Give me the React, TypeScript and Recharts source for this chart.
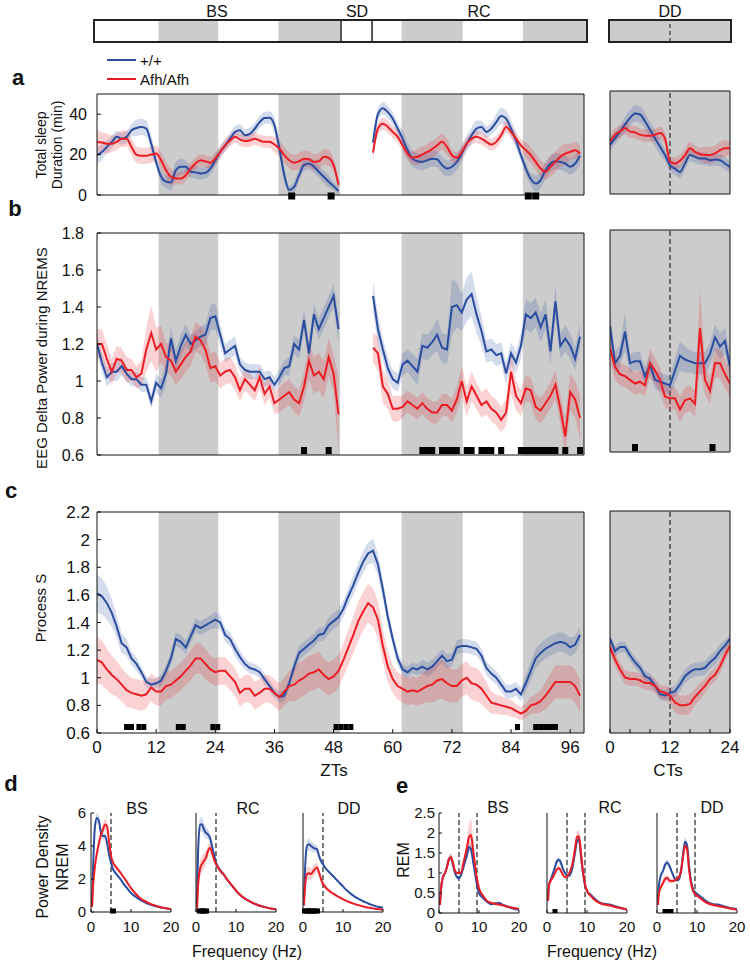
import React from "react";
import {
  ComposedChart,
  Line,
  Area,
  XAxis,
  YAxis,
  ReferenceArea,
  ReferenceLine,
  ReferenceDot,
} from "recharts";

const BLUE = "#2a4d9f";
const RED = "#ec1c24";
const GRAY = "#cccccc";
const FONT = "'Liberation Sans', Arial, Helvetica, sans-serif";

// ---- time grids (hours) ----
const ZT_BS = [0, 1, 2, 3, 4, 5, 6, 7, 8, 9, 10, 11, 12, 13, 14, 15, 16, 17, 18, 19, 20, 21, 22, 23, 24, 25, 26, 27, 28, 29, 30, 31, 32, 33, 34, 35, 36, 37, 38, 39, 40, 41, 42, 43, 44, 45, 46, 47, 48, 49];
const ZT_SD = [50, 51, 52, 53, 54, 55];
const ZT_RC = [56, 57, 58, 59, 60, 61, 62, 63, 64, 65, 66, 67, 68, 69, 70, 71, 72, 73, 74, 75, 76, 77, 78, 79, 80, 81, 82, 83, 84, 85, 86, 87, 88, 89, 90, 91, 92, 93, 94, 95, 96, 97, 98];
const CT = [0, 1, 2, 3, 4, 5, 6, 7, 8, 9, 10, 11, 12, 13, 14, 15, 16, 17, 18, 19, 20, 21, 22, 23, 24];
const ZT_TICKS = [0, 12, 24, 36, 48, 60, 72, 84, 96];
const CT_TICKS = [0, 4, 8, 12, 16, 20, 24];

// dark phases (ZT) and sleep deprivation window
const DARK_ZT = [[12.5, 24.6], [36.8, 49.3], [61.8, 74.2], [86.4, 100]];
const SD_EDGES = [49.5, 55.8];

// ---- a: total sleep (min) ----
const A_WT_BS = [
  19.7, 21.3, 23.8, 26.3, 28.8, 27.9, 28.8, 32, 33.2, 33.7,
  32.9, 25.4, 16.4, 9, 6.6, 6.2, 12.3, 14, 14, 11.5,
  11.2, 10.7, 11, 13.1, 17.2, 21.3, 24.6, 27.9, 31.2, 32,
  29.6, 30.3, 32.8, 36.1, 38.1, 38.3, 34.5, 23, 9.8, 2.5,
  4, 9.8, 14.8, 15.6, 14, 11.5, 9, 6.6, 4.4, 2,
];
const A_WT_RC = [
  26, 40, 43, 41, 37.8, 32.9, 27.9, 22.2, 18, 16.7,
  16.4, 17.2, 18, 17.7, 14.8, 13.1, 14, 16.4, 20.5, 25.4,
  29.6, 32.9, 33.7, 31.2, 32.9, 36.1, 39.1, 37.8, 32.9, 27,
  19.7, 13.1, 7.9, 5.7, 7.4, 12.3, 15.6, 16.7, 16.4, 15.6,
  14, 15.6, 19.4,
];
const A_KO_BS = [
  26.3, 26, 25.4, 25.4, 26.3, 27.9, 27.9, 23.8, 20, 19.4,
  19.4, 20, 20.5, 17.2, 12.3, 9, 8.2, 8.2, 9.8, 13.1,
  15.6, 17.2, 16.7, 16, 18, 21.3, 24.6, 27, 28.8, 27.5,
  26.7, 27, 27.9, 27, 26.3, 26.3, 25, 23, 19.7, 17.2,
  16, 16.7, 18, 17.7, 16.4, 16.7, 18.9, 18.4, 14.8, 5,
];
const A_KO_RC = [
  21, 32.9, 35.3, 33.7, 31.2, 28.8, 24.6, 20.5, 18.4, 18.9,
  20, 21.3, 22.7, 24.6, 26.3, 23.8, 19.7, 18.4, 21.3, 25.4,
  27.9, 28.8, 27.9, 26.3, 25, 26.3, 29.6, 33.7, 31.2, 27.9,
  24.6, 22.2, 19.7, 16.4, 13.1, 11.5, 14, 16.4, 18.9, 20.5,
  21.3, 22.2, 20.5,
];
const A_WT_SEM_BS = [
  4, 4, 3, 3, 3, 3, 3, 3, 4, 4, 4, 4, 3, 3, 3, 4, 4, 4, 3, 3,
  3, 3, 3, 3, 3, 3, 3, 3, 3, 3, 3, 3, 3, 3, 3, 3, 4, 4, 3, 2,
  3, 3, 3, 3, 3, 3, 3, 3, 2, 2,
];
const A_WT_SEM_RC = [
  4, 3, 3, 3, 3, 3, 4, 4, 4, 4, 4, 4, 4, 4, 4, 4, 4, 4, 4, 4,
  4, 4, 3, 3, 3, 4, 4, 4, 4, 4, 3, 3, 3, 4, 4, 4, 4, 4, 4, 4,
  4, 4, 4,
];
const A_KO_SEM_BS = [
  6, 5, 5, 4, 4, 4, 4, 4, 4, 4, 4, 4, 4, 4, 4, 4, 3, 3, 3, 3,
  3, 3, 3, 3, 3, 3, 3, 3, 3, 3, 3, 3, 3, 3, 3, 3, 4, 4, 4, 4,
  4, 4, 4, 4, 4, 4, 4, 4, 3, 3,
];
const A_KO_SEM_RC = [
  4, 3, 3, 3, 3, 3, 3, 3, 3, 4, 4, 4, 4, 4, 4, 4, 3, 3, 3, 3,
  3, 3, 3, 3, 3, 3, 3, 3, 3, 3, 3, 4, 4, 4, 4, 4, 5, 5, 5, 5,
  4, 4, 4,
];
const A_SIG = [39.5, 47.5, 87.5, 89];

// ---- b: EEG delta power during NREMS ----
const B_WT_BS = [
  1.2, 1.1, 1.02, 1.05, 1.05, 1.08, 1.04, 1.01, 1.01, 0.98,
  0.98, 0.89, 0.99, 0.96, 1.04, 1.23, 1.11, 1.19, 1.25, 1.2,
  1.22, 1.24, 1.25, 1.34, 1.35, 1.25, 1.15, 1.17, 1.19, 1.09,
  1.06, 1.05, 1.05, 1.05, 1.01, 1.02, 0.98, 1.02, 1.07, 1.08,
  1.2, 1.17, 1.33, 1.15, 1.36, 1.28, 1.34, 1.4, 1.46, 1.28,
];
const B_WT_RC = [
  1.46, 1.28, 1.17, 1.07, 1.01, 0.99, 1.09, 1.11, 1.08, 1.05,
  1.19, 1.18, 1.21, 1.25, 1.18, 1.17, 1.4, 1.41, 1.37, 1.44,
  1.47, 1.36, 1.27, 1.16, 1.17, 1.14, 1.15, 1.04, 1.15, 1.1,
  1.19, 1.36, 1.34, 1.37, 1.29, 1.36, 1.16, 1.43, 1.19, 1.23,
  1.19, 1.12, 1.24,
];
const B_KO_BS = [
  1.2, 1.2, 1.12, 1.05, 1.12, 1.11, 1.06, 1.06, 1.02, 1.04,
  1.17, 1.26, 1.17, 1.2, 1.13, 1.11, 1.05, 1.09, 1.13, 1.16,
  1.24, 1.22, 1.17, 1.07, 1.08, 1.03, 1.05, 1.06, 1.02, 0.95,
  1.01, 0.98, 0.95, 1.02, 0.93, 0.97, 0.88, 0.9, 0.92, 0.94,
  0.9, 0.88, 0.97, 1.11, 1.03, 1.05, 1.01, 1.13, 1.04, 0.82,
];
const B_KO_RC = [
  1.18, 1.15, 0.97, 0.93, 0.85, 0.85, 0.86, 0.89, 0.87, 0.85,
  0.88, 0.85, 0.83, 0.83, 0.87, 0.87, 0.84, 0.9, 1.0, 0.89,
  0.97, 0.92, 0.87, 0.89, 0.85, 0.83, 0.79, 0.83, 1.05, 0.92,
  0.88, 0.96, 0.95, 0.86, 0.84, 0.88, 0.92, 0.98, 0.85, 0.7,
  0.94, 0.9, 0.8,
];
const B_WT_SEM_BS = [
  0.06, 0.05, 0.05, 0.05, 0.05, 0.05, 0.04, 0.04, 0.04, 0.04,
  0.04, 0.04, 0.05, 0.05, 0.06, 0.06, 0.06, 0.06, 0.06, 0.05,
  0.05, 0.05, 0.06, 0.07, 0.07, 0.06, 0.05, 0.05, 0.05, 0.04,
  0.04, 0.04, 0.04, 0.04, 0.04, 0.04, 0.04, 0.04, 0.04, 0.05,
  0.05, 0.05, 0.06, 0.06, 0.06, 0.06, 0.06, 0.06, 0.06, 0.08,
];
const B_WT_SEM_RC = [
  0.08, 0.08, 0.06, 0.06, 0.05, 0.05, 0.06, 0.06, 0.07, 0.07,
  0.07, 0.07, 0.07, 0.09, 0.08, 0.08, 0.15, 0.12, 0.1, 0.12,
  0.12, 0.1, 0.08, 0.06, 0.06, 0.06, 0.06, 0.06, 0.06, 0.06,
  0.07, 0.08, 0.08, 0.08, 0.08, 0.08, 0.07, 0.09, 0.07, 0.07,
  0.07, 0.06, 0.07,
];
const B_KO_SEM_BS = [
  0.08, 0.08, 0.08, 0.07, 0.07, 0.07, 0.07, 0.06, 0.06, 0.07,
  0.12, 0.15, 0.12, 0.1, 0.08, 0.08, 0.07, 0.08, 0.08, 0.08,
  0.08, 0.08, 0.08, 0.08, 0.08, 0.07, 0.07, 0.07, 0.07, 0.06,
  0.06, 0.06, 0.06, 0.06, 0.06, 0.06, 0.06, 0.07, 0.07, 0.07,
  0.07, 0.07, 0.08, 0.1, 0.1, 0.1, 0.1, 0.1, 0.1, 0.2,
];
const B_KO_SEM_RC = [
  0.08, 0.09, 0.09, 0.08, 0.07, 0.07, 0.06, 0.06, 0.06, 0.06,
  0.06, 0.06, 0.06, 0.06, 0.06, 0.06, 0.06, 0.07, 0.08, 0.08,
  0.08, 0.07, 0.07, 0.07, 0.07, 0.07, 0.07, 0.07, 0.12, 0.08,
  0.07, 0.07, 0.07, 0.07, 0.07, 0.07, 0.07, 0.08, 0.08, 0.1,
  0.1, 0.1, 0.12,
];
const B_SIG = [42, 47, 66, 67, 68, 70, 71, 72, 73, 75, 76, 78, 79, 80, 82, 86, 87, 88, 89, 90, 91, 92, 93, 95, 98];

// ---- c: process S (ZT 0..98, continuous) ----
const C_WT = [
  1.61, 1.59, 1.54, 1.47, 1.37, 1.25, 1.22, 1.14, 1.1, 1.04,
  0.97, 0.95, 0.96, 0.98, 1.05, 1.14, 1.28, 1.26, 1.22, 1.3,
  1.38, 1.36, 1.38, 1.4, 1.42, 1.4, 1.31, 1.28, 1.21, 1.15,
  1.1, 1.07, 1.06, 1.04, 0.99, 0.94, 0.89, 0.86, 0.87, 0.96,
  1.08, 1.18, 1.21, 1.24, 1.27, 1.31, 1.32, 1.38, 1.41, 1.44,
  1.5, 1.59, 1.67, 1.76, 1.84, 1.9, 1.92, 1.82, 1.64, 1.44,
  1.28, 1.14, 1.06, 1.04, 1.07, 1.06, 1.08, 1.06, 1.08, 1.12,
  1.16, 1.12, 1.13, 1.22, 1.23, 1.23, 1.22, 1.21, 1.16, 1.07,
  1.03, 1.0, 0.95, 0.9, 0.9, 0.92, 0.88, 0.96, 1.05, 1.14,
  1.18, 1.21, 1.23, 1.25, 1.26, 1.25, 1.22, 1.24, 1.31,
];
const C_KO = [
  1.13, 1.11, 1.06, 1.02, 0.99, 0.95, 0.91, 0.89, 0.88, 0.87,
  0.88, 0.93, 0.9, 0.9, 0.94, 0.95, 0.98, 1.01, 1.05, 1.09,
  1.14, 1.14, 1.1, 1.06, 1.04, 1.05, 1.05, 1.01, 0.97, 0.89,
  0.92, 0.92, 0.87, 0.89, 0.92, 0.92, 0.89, 0.86, 0.9, 0.94,
  0.95, 0.98, 1.0, 1.03, 1.04, 1.06, 1.02, 0.99, 1.01, 1.05,
  1.13, 1.22, 1.31, 1.41, 1.48, 1.54, 1.51, 1.42, 1.23, 1.08,
  0.99, 0.94, 0.92, 0.9, 0.91, 0.9, 0.92, 0.94, 0.95, 0.98,
  0.99, 0.96, 0.94, 0.94, 0.98, 1.0, 0.96, 0.95, 0.92, 0.87,
  0.82, 0.81, 0.8, 0.79, 0.78, 0.76, 0.74, 0.76, 0.8, 0.81,
  0.83, 0.87, 0.92, 0.97, 0.97, 0.97, 0.97, 0.94, 0.87,
];
const C_WT_SEM = [
  0.14, 0.13, 0.12, 0.1, 0.08, 0.07, 0.06, 0.05, 0.05, 0.04,
  0.04, 0.04, 0.04, 0.04, 0.04, 0.05, 0.05, 0.05, 0.05, 0.05,
  0.05, 0.05, 0.05, 0.05, 0.06, 0.05, 0.05, 0.05, 0.05, 0.05,
  0.04, 0.04, 0.04, 0.04, 0.04, 0.04, 0.04, 0.04, 0.04, 0.04,
  0.05, 0.05, 0.05, 0.05, 0.05, 0.05, 0.05, 0.06, 0.06, 0.06,
  0.06, 0.06, 0.07, 0.07, 0.08, 0.08, 0.09, 0.08, 0.07, 0.06,
  0.05, 0.05, 0.04, 0.04, 0.04, 0.04, 0.05, 0.05, 0.05, 0.05,
  0.05, 0.05, 0.05, 0.05, 0.05, 0.05, 0.05, 0.05, 0.05, 0.05,
  0.05, 0.05, 0.05, 0.05, 0.05, 0.05, 0.05, 0.06, 0.07, 0.07,
  0.07, 0.07, 0.07, 0.07, 0.07, 0.07, 0.07, 0.06, 0.06,
];
const C_KO_SEM = [
  0.17, 0.16, 0.15, 0.14, 0.13, 0.12, 0.12, 0.11, 0.11, 0.11,
  0.1, 0.1, 0.1, 0.1, 0.1, 0.1, 0.1, 0.1, 0.1, 0.11,
  0.11, 0.11, 0.11, 0.1, 0.1, 0.1, 0.1, 0.1, 0.1, 0.1,
  0.1, 0.1, 0.1, 0.1, 0.1, 0.1, 0.1, 0.1, 0.1, 0.11,
  0.12, 0.13, 0.13, 0.13, 0.13, 0.13, 0.12, 0.12, 0.12, 0.12,
  0.12, 0.13, 0.13, 0.14, 0.14, 0.14, 0.14, 0.13, 0.12, 0.11,
  0.1, 0.1, 0.1, 0.1, 0.1, 0.1, 0.11, 0.12, 0.13, 0.14,
  0.14, 0.13, 0.12, 0.12, 0.12, 0.12, 0.12, 0.12, 0.11, 0.1,
  0.08, 0.07, 0.07, 0.06, 0.06, 0.05, 0.05, 0.05, 0.06, 0.07,
  0.08, 0.1, 0.11, 0.12, 0.12, 0.12, 0.12, 0.12, 0.12,
];
const C_SIG = [6, 7, 8.5, 9.5, 16.5, 17.5, 23.5, 24.5, 48.5, 49.5, 50.5, 51.5, 85.3, 89, 90, 91, 92, 93];

// ---- DD (CT 0..24) ----
const DDA_WT = [23.8, 27, 30.3, 33.7, 36.9, 39.1, 38.6, 35.3, 31.2, 27, 23, 18.9, 14, 12.3, 10.7, 14.8, 18.9, 18, 17.2, 17.2, 16.4, 16.7, 16.4, 14.8, 13.1];
const DDA_KO = [25.5, 28.8, 30.3, 32, 30.3, 29.9, 28.8, 28.3, 28.3, 28.8, 29.6, 27, 15.6, 14.8, 16.1, 18.9, 22.2, 20.5, 19.4, 18.9, 18.9, 19.7, 21.3, 22.2, 22.2];
const DDA_WT_SEM = [3, 3, 3, 4, 4, 4, 4, 4, 4, 4, 4, 3, 3, 3, 3, 3, 3, 3, 3, 3, 3, 3, 3, 3, 3];
const DDA_KO_SEM = [3, 3, 3, 3, 3, 3, 3, 3, 3, 3, 3, 3, 3, 3, 3, 3, 3, 3, 3, 4, 4, 4, 4, 4, 3];

const DDB_WT = [1.28, 1.08, 1.12, 1.25, 1.08, 1.09, 1.09, 1.01, 1.07, 0.99, 0.98, 0.97, 0.96, 1.04, 1.12, 1.1, 1.09, 1.08, 1.08, 1.08, 1.13, 1.22, 1.17, 1.2, 1.06];
const DDB_KO = [1.16, 1.06, 1.02, 1.01, 0.99, 0.97, 0.98, 0.96, 1.08, 1.04, 0.99, 0.9, 0.89, 0.89, 0.83, 0.88, 0.89, 0.86, 1.27, 0.99, 0.93, 1.08, 1.08, 1.02, 0.97];
const DDB_WT_SEM = [0.08, 0.06, 0.06, 0.1, 0.05, 0.05, 0.05, 0.05, 0.05, 0.05, 0.05, 0.05, 0.05, 0.07, 0.08, 0.07, 0.06, 0.06, 0.06, 0.06, 0.06, 0.07, 0.07, 0.07, 0.06];
const DDB_KO_SEM = [0.07, 0.07, 0.06, 0.06, 0.06, 0.06, 0.06, 0.06, 0.08, 0.07, 0.07, 0.06, 0.06, 0.06, 0.07, 0.07, 0.07, 0.07, 0.22, 0.08, 0.07, 0.08, 0.08, 0.08, 0.07];
const DDB_SIG = [5, 20.5];

const DDC_WT = [1.28, 1.19, 1.22, 1.22, 1.16, 1.11, 1.07, 1.01, 0.99, 0.94, 0.88, 0.87, 0.89, 0.9, 0.95, 1.01, 1.04, 1.06, 1.06, 1.07, 1.11, 1.14, 1.19, 1.23, 1.28];
const DDC_KO = [1.22, 1.13, 1.06, 1.0, 0.99, 0.99, 0.98, 0.96, 0.96, 0.94, 0.9, 0.89, 0.87, 0.82, 0.8, 0.8, 0.81, 0.86, 0.9, 0.94, 0.99, 1.02, 1.08, 1.16, 1.23];
const DDC_WT_SEM = [0.03, 0.04, 0.04, 0.04, 0.04, 0.04, 0.04, 0.04, 0.04, 0.04, 0.04, 0.04, 0.04, 0.04, 0.05, 0.05, 0.05, 0.05, 0.05, 0.05, 0.05, 0.05, 0.05, 0.04, 0.03];
const DDC_KO_SEM = [0.04, 0.05, 0.05, 0.05, 0.05, 0.05, 0.05, 0.05, 0.05, 0.05, 0.05, 0.05, 0.06, 0.07, 0.07, 0.07, 0.07, 0.06, 0.06, 0.05, 0.05, 0.05, 0.05, 0.05, 0.04];

// ---- d / e: spectra ----
const FREQ = [0.25, 0.5, 1, 1.5, 2, 2.5, 3, 3.5, 4, 4.5, 5, 5.5, 6, 6.5, 7, 7.5, 8, 8.5, 9, 9.5, 10, 11, 12, 13, 14, 15, 16, 17, 18, 19, 20];

const D_BS_WT = [0.3, 2.5, 5.2, 5.7, 5.5, 4.8, 4.6, 4.6, 4.2, 3.5, 3.0, 2.6, 2.4, 2.25, 2.1, 1.95, 1.75, 1.6, 1.45, 1.3, 1.15, 0.95, 0.78, 0.64, 0.53, 0.44, 0.36, 0.3, 0.25, 0.21, 0.17];
const D_BS_KO = [0.3, 1.5, 2.8, 3.6, 4.2, 4.7, 5.0, 5.3, 5.2, 4.3, 3.4, 3.0, 2.8, 2.65, 2.5, 2.35, 2.15, 2.0, 1.8, 1.62, 1.45, 1.15, 0.9, 0.72, 0.6, 0.48, 0.4, 0.32, 0.26, 0.22, 0.18];
const D_RC_WT = [0.5, 3.5, 5.3, 5.3, 5.0, 4.8, 4.7, 4.5, 4.0, 3.5, 3.0, 2.75, 2.55, 2.4, 2.25, 2.05, 1.9, 1.75, 1.6, 1.45, 1.3, 1.05, 0.85, 0.7, 0.57, 0.47, 0.38, 0.31, 0.25, 0.2, 0.16];
const D_RC_KO = [0.2, 1.5, 2.6, 2.9, 3.1, 3.3, 3.7, 3.9, 3.6, 3.2, 2.9, 2.7, 2.5, 2.38, 2.25, 2.08, 1.9, 1.75, 1.6, 1.45, 1.3, 1.05, 0.85, 0.7, 0.57, 0.47, 0.38, 0.31, 0.25, 0.2, 0.16];
const D_DD_WT = [0.8, 2.5, 4.0, 4.1, 4.0, 3.9, 3.85, 3.8, 3.4, 3.1, 2.9, 2.7, 2.55, 2.42, 2.3, 2.18, 2.05, 1.92, 1.8, 1.68, 1.55, 1.3, 1.1, 0.92, 0.78, 0.65, 0.55, 0.45, 0.37, 0.3, 0.25];
const D_DD_KO = [0.4, 1.5, 2.3, 2.35, 2.3, 2.45, 2.6, 2.7, 2.4, 2.0, 1.7, 1.55, 1.4, 1.3, 1.2, 1.12, 1.05, 0.97, 0.9, 0.84, 0.78, 0.66, 0.56, 0.48, 0.4, 0.34, 0.28, 0.24, 0.2, 0.17, 0.14];
const D_BS_WT_SEM = [0.1, 0.3, 0.35, 0.3, 0.3, 0.25, 0.2, 0.2, 0.2, 0.15, 0.12, 0.1, 0.1, 0.1, 0.08, 0.08, 0.08, 0.07, 0.07, 0.06, 0.06, 0.05, 0.05, 0.04, 0.04, 0.03, 0.03, 0.03, 0.02, 0.02, 0.02];
const D_BS_KO_SEM = [0.1, 0.2, 0.3, 0.3, 0.35, 0.35, 0.35, 0.35, 0.3, 0.25, 0.2, 0.15, 0.12, 0.1, 0.1, 0.08, 0.08, 0.07, 0.07, 0.06, 0.06, 0.05, 0.05, 0.04, 0.04, 0.03, 0.03, 0.03, 0.02, 0.02, 0.02];
const D_RC_WT_SEM = [0.1, 0.35, 0.45, 0.45, 0.4, 0.35, 0.3, 0.25, 0.2, 0.15, 0.12, 0.1, 0.1, 0.1, 0.08, 0.08, 0.08, 0.07, 0.07, 0.06, 0.06, 0.05, 0.05, 0.04, 0.04, 0.03, 0.03, 0.03, 0.02, 0.02, 0.02];
const D_RC_KO_SEM = [0.1, 0.4, 0.5, 0.5, 0.45, 0.4, 0.35, 0.3, 0.25, 0.2, 0.15, 0.1, 0.1, 0.1, 0.08, 0.08, 0.08, 0.07, 0.07, 0.06, 0.06, 0.05, 0.05, 0.04, 0.04, 0.03, 0.03, 0.03, 0.02, 0.02, 0.02];
const D_DD_WT_SEM = [0.1, 0.3, 0.35, 0.35, 0.3, 0.3, 0.25, 0.25, 0.2, 0.15, 0.12, 0.1, 0.1, 0.1, 0.08, 0.08, 0.08, 0.07, 0.07, 0.06, 0.06, 0.05, 0.05, 0.04, 0.04, 0.03, 0.03, 0.03, 0.02, 0.02, 0.02];
const D_DD_KO_SEM = [0.1, 0.3, 0.4, 0.4, 0.35, 0.35, 0.35, 0.3, 0.25, 0.2, 0.2, 0.15, 0.15, 0.12, 0.1, 0.1, 0.08, 0.07, 0.07, 0.06, 0.06, 0.05, 0.05, 0.04, 0.04, 0.03, 0.03, 0.03, 0.02, 0.02, 0.02];
const D_BS_SIG = [5.5];
const D_RC_SIG = [1, 1.5, 2, 2.5];
const D_DD_SIG = [0.5, 1, 1.5, 2, 2.5, 3, 3.5];

const E_BS_WT = [0.2, 0.6, 0.9, 1.0, 1.15, 1.35, 1.38, 1.2, 1.0, 0.9, 0.87, 0.95, 1.1, 1.28, 1.45, 1.65, 1.6, 1.3, 1.0, 0.7, 0.5, 0.38, 0.28, 0.22, 0.24, 0.25, 0.2, 0.17, 0.13, 0.1, 0.08];
const E_BS_KO = [0.2, 0.6, 0.9, 1.0, 1.15, 1.35, 1.4, 1.25, 1.05, 1.0, 1.0, 1.0, 1.2, 1.42, 1.65, 1.9, 1.95, 1.6, 1.2, 0.85, 0.62, 0.43, 0.3, 0.25, 0.23, 0.21, 0.19, 0.16, 0.14, 0.12, 0.1];
const E_RC_WT = [0.3, 0.7, 0.85, 1.0, 1.15, 1.3, 1.33, 1.25, 1.1, 1.0, 0.95, 0.93, 1.0, 1.2, 1.5, 1.8, 1.85, 1.4, 1.0, 0.7, 0.55, 0.45, 0.35, 0.27, 0.23, 0.22, 0.2, 0.17, 0.14, 0.11, 0.09];
const E_RC_KO = [0.3, 0.7, 0.82, 0.9, 1.0, 1.1, 1.12, 1.05, 0.95, 0.9, 0.92, 0.98, 1.1, 1.3, 1.6, 1.9, 1.92, 1.5, 1.05, 0.72, 0.55, 0.42, 0.32, 0.26, 0.22, 0.2, 0.18, 0.15, 0.13, 0.11, 0.09];
const E_DD_WT = [0.3, 0.7, 0.95, 1.05, 1.2, 1.26, 1.2, 1.08, 0.95, 0.85, 0.82, 0.85, 1.05, 1.45, 1.78, 1.7, 1.2, 0.8, 0.6, 0.52, 0.48, 0.4, 0.32, 0.25, 0.22, 0.21, 0.19, 0.16, 0.13, 0.11, 0.1];
const E_DD_KO = [0.2, 0.5, 0.65, 0.75, 0.85, 0.88, 0.82, 0.8, 0.8, 0.82, 0.85, 0.9, 1.05, 1.4, 1.68, 1.6, 1.1, 0.75, 0.55, 0.48, 0.43, 0.36, 0.28, 0.23, 0.2, 0.18, 0.16, 0.14, 0.12, 0.1, 0.09];
const E_BS_WT_SEM = [0.03, 0.05, 0.05, 0.05, 0.06, 0.08, 0.08, 0.07, 0.06, 0.05, 0.05, 0.05, 0.06, 0.08, 0.1, 0.12, 0.12, 0.1, 0.08, 0.06, 0.05, 0.04, 0.03, 0.03, 0.03, 0.03, 0.03, 0.02, 0.02, 0.02, 0.02];
const E_BS_KO_SEM = [0.03, 0.05, 0.05, 0.05, 0.06, 0.08, 0.1, 0.08, 0.06, 0.05, 0.05, 0.05, 0.08, 0.12, 0.2, 0.35, 0.4, 0.3, 0.2, 0.12, 0.08, 0.05, 0.04, 0.03, 0.03, 0.03, 0.03, 0.02, 0.02, 0.02, 0.02];
const E_RC_WT_SEM = [0.03, 0.05, 0.05, 0.05, 0.06, 0.08, 0.08, 0.07, 0.06, 0.05, 0.05, 0.05, 0.06, 0.08, 0.1, 0.12, 0.12, 0.1, 0.08, 0.06, 0.05, 0.04, 0.03, 0.03, 0.03, 0.03, 0.03, 0.02, 0.02, 0.02, 0.02];
const E_RC_KO_SEM = [0.03, 0.05, 0.05, 0.05, 0.06, 0.06, 0.06, 0.06, 0.05, 0.05, 0.05, 0.05, 0.08, 0.1, 0.12, 0.15, 0.15, 0.12, 0.1, 0.06, 0.05, 0.04, 0.03, 0.03, 0.03, 0.03, 0.03, 0.02, 0.02, 0.02, 0.02];
const E_DD_WT_SEM = [0.03, 0.05, 0.06, 0.08, 0.08, 0.08, 0.08, 0.07, 0.06, 0.05, 0.05, 0.05, 0.06, 0.08, 0.1, 0.1, 0.08, 0.06, 0.05, 0.05, 0.04, 0.04, 0.03, 0.03, 0.03, 0.03, 0.03, 0.02, 0.02, 0.02, 0.02];
const E_DD_KO_SEM = [0.03, 0.05, 0.06, 0.08, 0.08, 0.08, 0.08, 0.07, 0.06, 0.05, 0.05, 0.05, 0.06, 0.08, 0.1, 0.1, 0.08, 0.06, 0.05, 0.05, 0.04, 0.04, 0.03, 0.03, 0.03, 0.03, 0.03, 0.02, 0.02, 0.02, 0.02];
const E_RC_SIG = [2];
const E_DD_SIG = [2, 2.5, 3, 3.5];

// ---- rows ----
type Num = number | null;
function toRows(xs: number[], wt: Num[], wtSem: Num[], ko: Num[], koSem: Num[]) {
  return xs.map((t, i) => {
    const a = wt[i];
    const sa = wtSem[i];
    const b = ko[i];
    const sb = koSem[i];
    return {
      t,
      wt: a,
      ko: b,
      wtBand: a == null || sa == null ? null : [a - sa, a + sa],
      koBand: b == null || sb == null ? null : [b - sb, b + sb],
    };
  });
}

const GAP = ZT_SD.map(() => null);
const ZT_ALL = [...ZT_BS, ...ZT_SD, ...ZT_RC];
const rowsA = toRows(ZT_ALL, [...A_WT_BS, ...GAP, ...A_WT_RC], [...A_WT_SEM_BS, ...GAP, ...A_WT_SEM_RC], [...A_KO_BS, ...GAP, ...A_KO_RC], [...A_KO_SEM_BS, ...GAP, ...A_KO_SEM_RC]);
const rowsB = toRows(ZT_ALL, [...B_WT_BS, ...GAP, ...B_WT_RC], [...B_WT_SEM_BS, ...GAP, ...B_WT_SEM_RC], [...B_KO_BS, ...GAP, ...B_KO_RC], [...B_KO_SEM_BS, ...GAP, ...B_KO_SEM_RC]);
const rowsC = toRows(ZT_ALL, C_WT, C_WT_SEM, C_KO, C_KO_SEM);
const rowsDDA = toRows(CT, DDA_WT, DDA_WT_SEM, DDA_KO, DDA_KO_SEM);
const rowsDDB = toRows(CT, DDB_WT, DDB_WT_SEM, DDB_KO, DDB_KO_SEM);
const rowsDDC = toRows(CT, DDC_WT, DDC_WT_SEM, DDC_KO, DDC_KO_SEM);
const rowsD = [
  toRows(FREQ, D_BS_WT, D_BS_WT_SEM, D_BS_KO, D_BS_KO_SEM),
  toRows(FREQ, D_RC_WT, D_RC_WT_SEM, D_RC_KO, D_RC_KO_SEM),
  toRows(FREQ, D_DD_WT, D_DD_WT_SEM, D_DD_KO, D_DD_KO_SEM),
];
const rowsE = [
  toRows(FREQ, E_BS_WT, E_BS_WT_SEM, E_BS_KO, E_BS_KO_SEM),
  toRows(FREQ, E_RC_WT, E_RC_WT_SEM, E_RC_KO, E_RC_KO_SEM),
  toRows(FREQ, E_DD_WT, E_DD_WT_SEM, E_DD_KO, E_DD_KO_SEM),
];

type PanelProps = {
  x: number;
  y: number;
  w: number;
  h: number;
  rows: any[];
  xDomain: [number, number];
  xTicks: number[];
  xFmt?: (v: number) => string;
  xGap?: number;
  yDomain: [number, number];
  yTicks: number[];
  yLabels?: boolean;
  yGap?: number;
  box?: boolean;
  dark?: number[][];
  dashed?: number[];
  sig?: number[];
  mark?: [number, number, number];
  curve?: "linear" | "monotone";
  fs?: number;
  tk?: number;
};

function Panel(p: PanelProps) {
  const box = p.box !== false;
  const L = 60;
  const B = 34;
  const T = 10;
  const R = 10;
  const fs = p.fs ?? 16;
  const tk = p.tk ?? 4;
  const W = L + p.w + R;
  const H = T + p.h + B;
  const curve = p.curve ?? "linear";
  const tickStyle = { fontSize: fs, fill: "#111", fontFamily: FONT };
  const [sw, sh, off] = p.mark ?? [5, 6, 0];
  const pos: React.CSSProperties = { position: "absolute", left: p.x - L, top: p.y - T };
  return (
    <>
      <div style={pos}>
        <ComposedChart width={W} height={H} data={p.rows} margin={{ top: T, right: R, bottom: B, left: L }}>
          <XAxis hide dataKey="t" type="number" domain={p.xDomain} allowDataOverflow />
          <YAxis hide type="number" domain={p.yDomain} allowDataOverflow />
          {(p.dark ?? []).map(([a, b], i) => (
            <ReferenceArea key={"d" + i} x1={a} x2={b} fill={GRAY} fillOpacity={1} stroke="none" ifOverflow="hidden" />
          ))}
          {(p.dashed ?? []).map((v, i) => (
            <ReferenceLine key={"l" + i} x={v} stroke="#333" strokeWidth={1.3} strokeDasharray="5 3" />
          ))}
          <Line dataKey="wt" stroke="none" dot={false} activeDot={false} isAnimationActive={false} />
        </ComposedChart>
      </div>
      <div style={pos}>
        <ComposedChart
          width={W}
          height={H}
          data={p.rows}
          margin={{ top: box ? 0 : T, right: box ? 0 : R, bottom: 0, left: 0 }}
        >
          <XAxis
            dataKey="t"
            type="number"
            domain={p.xDomain}
            ticks={p.xTicks}
            interval={0}
            allowDataOverflow
            height={B}
            stroke="#111"
            tickSize={-tk}
            tickMargin={tk + (p.xGap ?? 9)}
            tick={p.xFmt ? tickStyle : false}
            tickFormatter={p.xFmt}
          />
          {box && (
            <XAxis
              xAxisId="top"
              orientation="top"
              type="number"
              domain={p.xDomain}
              ticks={p.xTicks}
              interval={0}
              allowDataOverflow
              height={T}
              stroke="#111"
              tickSize={-tk}
              tick={false}
            />
          )}
          <YAxis
            type="number"
            domain={p.yDomain}
            ticks={p.yTicks}
            interval={0}
            allowDataOverflow
            width={L}
            stroke="#111"
            tickSize={-tk}
            tickMargin={tk + (p.yGap ?? 8)}
            tick={p.yLabels ? tickStyle : false}
          />
          {box && (
            <YAxis
              yAxisId="r"
              orientation="right"
              type="number"
              domain={p.yDomain}
              ticks={p.yTicks}
              interval={0}
              allowDataOverflow
              width={R}
              stroke="#111"
              tickSize={-tk}
              tick={false}
            />
          )}
          <Area dataKey="wtBand" type={curve} stroke="none" fill={BLUE} fillOpacity={0.2} activeDot={false} isAnimationActive={false} />
          <Area dataKey="koBand" type={curve} stroke="none" fill={RED} fillOpacity={0.2} activeDot={false} isAnimationActive={false} />
          <Line dataKey="wt" type={curve} stroke={BLUE} strokeWidth={2} dot={false} activeDot={false} isAnimationActive={false} />
          <Line dataKey="ko" type={curve} stroke={RED} strokeWidth={2} dot={false} activeDot={false} isAnimationActive={false} />
          {(p.sig ?? []).map((t, i) => (
            <ReferenceDot
              key={"s" + i}
              x={t}
              y={p.yDomain[0]}
              ifOverflow="visible"
              shape={(s: any) => (
                <rect x={s.cx - sw / 2} y={s.cy + off - sh} width={sw} height={sh} fill="#000" />
              )}
            />
          ))}
        </ComposedChart>
      </div>
    </>
  );
}

function PhaseBar(p: { x: number; y: number; w: number; h: number; domain: [number, number]; dark: number[][]; solid: number[]; dashed: number[] }) {
  const m = 2;
  return (
    <div style={{ position: "absolute", left: p.x - m, top: p.y - m }}>
      <ComposedChart
        width={p.w + 2 * m}
        height={p.h + 2 * m}
        data={p.domain.map((t) => ({ t, v: null }))}
        margin={{ top: m, right: m, bottom: m, left: m }}
      >
        <XAxis hide dataKey="t" type="number" domain={p.domain} allowDataOverflow />
        <YAxis hide type="number" domain={[0, 1]} allowDataOverflow />
        {p.dark.map(([a, b], i) => (
          <ReferenceArea key={i} x1={a} x2={b} y1={0} y2={1} fill={GRAY} fillOpacity={1} stroke="none" ifOverflow="hidden" />
        ))}
        {p.solid.map((v, i) => (
          <ReferenceLine key={"s" + i} x={v} stroke="#222" strokeWidth={1.5} />
        ))}
        {p.dashed.map((v, i) => (
          <ReferenceLine key={"d" + i} x={v} stroke="#333" strokeWidth={1.2} strokeDasharray="4 3" />
        ))}
        <ReferenceArea x1={p.domain[0]} x2={p.domain[1]} y1={0} y2={1} fill="none" stroke="#222" strokeWidth={2} ifOverflow="visible" />
        <Line dataKey="v" stroke="none" dot={false} isAnimationActive={false} />
      </ComposedChart>
    </div>
  );
}

const fmt = (v: number) => String(v);
const fmtCT = (v: number) => (v % 12 === 0 ? String(v) : "");

function Txt(props: { x: number; y: number; size?: number; bold?: boolean; rot?: boolean; anchor?: "start" | "middle" | "end"; children: React.ReactNode }) {
  const { x, y, size = 15, bold, rot, anchor = "middle", children } = props;
  return (
    <text
      x={rot ? 0 : x}
      y={rot ? 0 : y}
      transform={rot ? `translate(${x},${y}) rotate(-90)` : undefined}
      textAnchor={anchor}
      dominantBaseline="central"
      fontSize={size}
      fontWeight={bold ? 700 : 400}
      fontFamily={FONT}
      fill="#111"
    >
      {children}
    </text>
  );
}

export default function App() {
  const spec = [
    { x: 91, xe: 439 },
    { x: 196, xe: 547 },
    { x: 303, xe: 657 },
  ];
  const dSig = [D_BS_SIG, D_RC_SIG, D_DD_SIG];
  const eSig = [[], E_RC_SIG, E_DD_SIG];
  return (
    <div style={{ position: "absolute", left: 0, top: 0, width: 750, height: 962, background: "#fff", overflow: "hidden" }}>
      <PhaseBar x={94} y={20} w={493} h={22} domain={[-0.6, 99.4]} dark={DARK_ZT} solid={SD_EDGES} dashed={[]} />
      <PhaseBar x={609} y={20} w={122} h={22} domain={[-0.2, 24.2]} dark={[[-0.2, 24.2]]} solid={[]} dashed={[12]} />

      <Panel x={97} y={94} w={487} h={101} rows={rowsA} xDomain={[0, 98.8]} xTicks={ZT_TICKS} yDomain={[0, 50]} yTicks={[0, 20, 40]} yLabels yGap={10} dark={DARK_ZT} sig={A_SIG} mark={[7, 7, 4.5]} curve="monotone" />
      <Panel x={610} y={91} w={120} h={103} rows={rowsDDA} xDomain={[0, 24]} xTicks={CT_TICKS} yDomain={[0, 50]} yTicks={[0, 20, 40]} dark={[[0, 24]]} dashed={[12]} curve="monotone" />

      <Panel x={97} y={233} w={487} h={222} rows={rowsB} xDomain={[0, 98.8]} xTicks={ZT_TICKS} yDomain={[0.6, 1.8]} yTicks={[0.6, 0.8, 1, 1.2, 1.4, 1.6, 1.8]} yLabels yGap={13} dark={DARK_ZT} sig={B_SIG} mark={[6, 7, -1]} />
      <Panel x={610} y={230} w={120} h={222} rows={rowsDDB} xDomain={[0, 24]} xTicks={CT_TICKS} yDomain={[0.6, 1.8]} yTicks={[0.6, 0.8, 1, 1.2, 1.4, 1.6, 1.8]} dark={[[0, 24]]} dashed={[12]} sig={DDB_SIG} mark={[6, 7, -1]} />

      <Panel x={97} y={512} w={487} h={221} rows={rowsC} xDomain={[0, 98.8]} xTicks={ZT_TICKS} xFmt={fmt} xGap={8} yDomain={[0.6, 2.2]} yTicks={[0.6, 0.8, 1, 1.2, 1.4, 1.6, 1.8, 2, 2.2]} yLabels yGap={7} dark={DARK_ZT} sig={C_SIG} mark={[5, 6, -3]} fs={17} />
      <Panel x={610} y={511} w={120} h={222} rows={rowsDDC} xDomain={[0, 24]} xTicks={CT_TICKS} xFmt={fmtCT} xGap={8} yDomain={[0.6, 2.2]} yTicks={[0.6, 0.8, 1, 1.2, 1.4, 1.6, 1.8, 2, 2.2]} dark={[[0, 24]]} dashed={[12]} fs={17} />

      {spec.map((s, i) => (
        <Panel key={"d" + i} x={s.x} y={813} w={80} h={99} rows={rowsD[i]} box={false} xDomain={[0, 20]} xTicks={[0, 10, 20]} xFmt={fmt} xGap={9} yDomain={[0, 6]} yTicks={[0, 2, 4, 6]} yLabels={i === 0} yGap={5} dashed={[5]} sig={dSig[i]} mark={[6, 5, 1.5]} curve="monotone" fs={15} tk={3} />
      ))}
      {spec.map((s, i) => (
        <Panel key={"e" + i} x={s.xe} y={813} w={80} h={100} rows={rowsE[i]} box={false} xDomain={[0, 20]} xTicks={[0, 10, 20]} xFmt={fmt} xGap={8} yDomain={[0, 2.5]} yTicks={[0, 0.5, 1, 1.5, 2, 2.5]} yLabels={i === 0} yGap={4} dashed={[5, 9.5]} sig={eSig[i]} mark={[5, 4, 0]} curve="monotone" fs={15} tk={3} />
      ))}

      <svg width={750} height={962} style={{ position: "absolute", left: 0, top: 0, pointerEvents: "none" }}>
        <Txt x={217} y={11} size={16}>BS</Txt>
        <Txt x={357} y={11} size={16}>SD</Txt>
        <Txt x={479} y={11} size={16}>RC</Txt>
        <Txt x={670} y={11} size={16}>DD</Txt>

        <line x1={107} y1={60} x2={136} y2={60} stroke={BLUE} strokeWidth={2} />
        <Txt x={140} y={60} anchor="start">+/+</Txt>
        <line x1={107} y1={79} x2={136} y2={79} stroke={RED} strokeWidth={2} />
        <Txt x={140} y={79} anchor="start">Afh/Afh</Txt>

        <Txt x={18} y={77} size={22} bold>a</Txt>
        <Txt x={15} y={208} size={22} bold>b</Txt>
        <Txt x={11} y={490} size={22} bold>c</Txt>
        <Txt x={11} y={783} size={22} bold>d</Txt>
        <Txt x={402} y={785} size={22} bold>e</Txt>

        <Txt x={41} y={145} size={14} rot>Total sleep</Txt>
        <Txt x={57} y={145} size={14} rot>Duration (min)</Txt>
        <Txt x={41} y={358} size={15} rot>EEG Delta Power during NREMS</Txt>
        <Txt x={40} y={608} size={15} rot>Process S</Txt>
        <Txt x={334} y={770} size={17}>ZTs</Txt>
        <Txt x={668} y={770} size={17}>CTs</Txt>

        <Txt x={42} y={867} size={16} rot>Power Density</Txt>
        <Txt x={62} y={867} size={16} rot>NREM</Txt>
        <Txt x={403} y={860} size={16} rot>REM</Txt>
        <Txt x={137} y={808} size={16}>BS</Txt>
        <Txt x={248} y={808} size={16}>RC</Txt>
        <Txt x={349} y={808} size={16}>DD</Txt>
        <Txt x={498} y={807} size={16}>BS</Txt>
        <Txt x={610} y={807} size={16}>RC</Txt>
        <Txt x={712} y={807} size={16}>DD</Txt>
        <Txt x={247} y={951} size={16}>Frequency (Hz)</Txt>
        <Txt x={602} y={951} size={16}>Frequency (Hz)</Txt>
      </svg>
    </div>
  );
}
